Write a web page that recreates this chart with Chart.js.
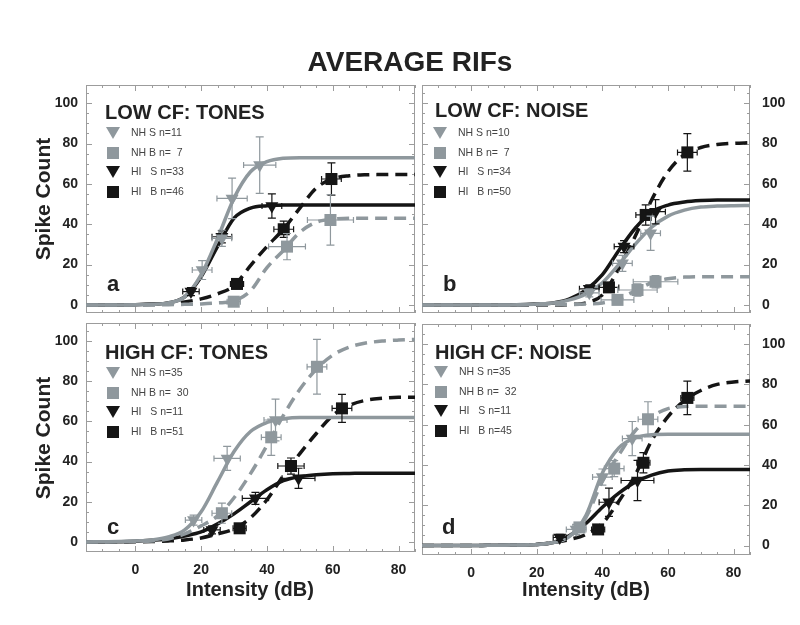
<!DOCTYPE html>
<html>

<head>
    <meta charset="UTF-8">
    <title>Average RIFs</title>
    <script src="https://cdn.jsdelivr.net/npm/chart.js@4.4.0/dist/chart.umd.min.js"></script>
    <style>
        body { margin: 0; background: #fff; }
        #page { position: relative; width: 800px; height: 625px; overflow: hidden; font-family: "Liberation Sans", Arial, sans-serif; color: #222; }
        canvas { position: absolute; left: 0; top: 0; }
        .txt { position: absolute; white-space: pre; line-height: 1; }
        .bold { font-weight: bold; }
        .tri { position: absolute; width: 0; height: 0; border-left: 7px solid transparent; border-right: 7px solid transparent; border-top: 12px solid; }
        .sq { position: absolute; width: 12px; height: 12px; }
    </style>
</head>

<body>
    <div id="page">
        <canvas id="cA" width="800" height="625"></canvas>
        <canvas id="cB" width="800" height="625"></canvas>
        <canvas id="cC" width="800" height="625"></canvas>
        <canvas id="cD" width="800" height="625"></canvas>
        <div class="txt bold" style="left:0;width:820px;text-align:center;top:48px;font-size:28px;">AVERAGE RIFs</div>
        <div class="txt bold" style="left:42px;top:199px;font-size:21px;transform:translate(-50%,-50%) rotate(-90deg);">Spike Count</div>
        <div class="txt bold" style="left:42px;top:438px;font-size:21px;transform:translate(-50%,-50%) rotate(-90deg);">Spike Count</div>
        <div class="txt bold" style="left:250px;top:589px;font-size:20px;transform:translate(-50%,-50%);">Intensity (dB)</div>
        <div class="txt bold" style="left:586px;top:589px;font-size:20px;transform:translate(-50%,-50%);">Intensity (dB)</div>
    </div>
    <script>
        const curveX = [-15, -10, -5, 0, 5, 10, 15, 20, 25, 30, 35, 40, 45, 50, 55, 60, 65, 70, 75, 80, 85];
        const xTickVals = [0, 20, 40, 60, 80];
        const yTickVals = [0, 20, 40, 60, 80, 100];

        // panel a: low CF, tones
        const aCurveNHS = [0, 0, 0, 0.1, 0.3, 1, 4, 15, 33, 53, 66, 71, 72.7, 73, 73, 73, 73, 73, 73, 73, 73];
        const aCurveNHB = [0, 0, 0, 0, 0, 0.1, 0.3, 0.5, 1, 2, 7, 18.5, 27, 36, 41, 42.5, 43, 43, 43, 43, 43];
        const aCurveHIS = [0, 0, 0, 0.1, 0.4, 1, 4, 14, 29, 43, 48, 49.2, 49.5, 49.5, 49.5, 49.5, 49.5, 49.5, 49.5, 49.5, 49.5];
        const aCurveHIB = [0, 0, 0, 0.1, 0.2, 0.5, 1.5, 3, 5.5, 9.5, 19.5, 29, 37.5, 48, 58, 62.5, 64, 64.5, 64.6, 64.7, 64.7];
        // points: [x, y, xErr, yErr]
        const aPtsNHS = [[20.3, 17.3, 3, 4.7], [26.3, 33, 3, 4], [29.4, 52.8, 4.6, 10], [37.8, 69.3, 4.9, 14]];
        const aPtsNHB = [[29.9, 1.6, 2, 1], [46.1, 28.9, 5.6, 6.5], [59.3, 42.1, 7, 12.5]];
        const aPtsHIS = [[16.9, 6.6, 2.5, 2], [26.3, 33.8, 3, 3], [41.5, 49, 3, 6]];
        const aPtsHIB = [[30.9, 10.4, 2, 2], [45.1, 37.5, 3, 4], [59.6, 62.4, 3, 8]];
        const aLegend = ['NH S n=11', 'NH B n=  7', 'HI   S n=33', 'HI   B n=46'];

        // panel b: low CF, noise
        const bCurveNHS = [0, 0, 0, 0, 0, 0, 0.2, 0.5, 1, 2.5, 5.5, 11, 20, 30, 38.5, 44, 47, 48.5, 49, 49.2, 49.3];
        const bCurveNHB = [0, 0, 0, 0, 0, 0, 0, 0.1, 0.1, 0.2, 0.5, 1, 3, 7, 11, 13, 13.8, 14, 14, 14, 14];
        const bCurveHIS = [0, 0, 0, 0, 0, 0, 0.1, 0.5, 1, 3, 7.5, 15, 27, 38, 46, 49.5, 51, 51.7, 52, 52, 52];
        const bCurveHIB = [0, 0, 0, 0, 0, 0, 0, 0, 0, 0.2, 1, 5, 18, 34, 52, 66, 74.5, 78, 79.5, 80.1, 80.4];
        const bPtsNHS = [[36, 6, 3, 2], [46.1, 20.6, 3, 4], [54.7, 35.5, 3, 8.5]];
        const bPtsNHB = [[44.6, 2.5, 5, 2], [50.7, 7.4, 6, 3], [56.2, 11.5, 6.8, 3]];
        const bPtsHIS = [[36, 8, 3, 2], [46.6, 28.9, 3, 3], [56.2, 46.2, 3, 6]];
        const bPtsHIB = [[42, 8.7, 3, 2], [53.2, 44.6, 3, 5], [65.9, 75.6, 3, 9.3]];
        const bLegend = ['NH S n=10', 'NH B n=  7', 'HI   S n=34', 'HI   B n=50'];

        // panel c: high CF, tones
        const cCurveNHS = [0, 0.1, 0.2, 0.5, 1, 2.5, 6, 15, 30, 45, 55, 59.5, 61.3, 62, 62, 62, 62, 62, 62, 62, 62];
        const cCurveNHB = [0, 0, 0.1, 0.3, 0.5, 1.5, 4, 8, 13, 22, 34, 48, 63, 76, 86, 93, 97, 99, 100, 100.5, 100.8];
        const cCurveHIS = [0, 0, 0.1, 0.3, 0.8, 1.5, 3, 5, 9, 14, 20, 26, 30.5, 32.5, 33.5, 34, 34.1, 34.2, 34.2, 34.2, 34.2];
        const cCurveHIB = [0, 0, 0, 0.1, 0.2, 0.5, 1, 2, 4, 6.5, 12, 21, 33, 44, 54, 63, 68, 70.5, 71.5, 72, 72];
        const cPtsNHS = [[17.7, 10.9, 2.5, 2.5], [27.9, 41.6, 4, 6], [42.6, 60.7, 3.5, 10.4]];
        const cPtsNHB = [[26.3, 14.3, 3, 5], [41.3, 52.1, 3, 9], [55.2, 87.2, 3, 13.6]];
        const cPtsHIS = [[23.3, 6, 2.5, 2], [36.5, 21.7, 4, 3], [49.6, 31.7, 5, 5]];
        const cPtsHIB = [[31.7, 6.8, 2, 1.5], [47.3, 37.8, 4, 4], [62.8, 66.5, 3, 7]];
        const cLegend = ['NH S n=35', 'NH B n=  30', 'HI   S n=11', 'HI   B n=51'];

        // panel d: high CF, noise
        const dCurveNHS = [0, 0, 0, 0, 0.1, 0.2, 0.3, 0.5, 1.5, 4.5, 15, 36, 48.5, 53.5, 55, 55.2, 55.2, 55.2, 55.2, 55.2, 55.2];
        const dCurveNHB = [0, 0, 0, 0, 0.1, 0.2, 0.3, 0.5, 1.5, 4.5, 14, 32, 45, 57, 64, 68, 69, 69.2, 69.2, 69.2, 69.2];
        const dCurveHIS = [0, 0, 0, 0, 0.1, 0.2, 0.3, 0.5, 1.5, 5, 11, 19, 26, 31.5, 35, 37, 37.6, 37.8, 37.8, 37.8, 37.8];
        const dCurveHIB = [0, 0, 0, 0, 0.1, 0.2, 0.3, 0.5, 1.5, 3, 5.5, 11, 22, 35, 52, 64, 72, 77, 80, 81.2, 81.7];
        const dPtsNHS = [[32, 8, 3, 2.5], [40, 34, 3, 4], [49.1, 53.1, 3, 8.5]];
        const dPtsNHB = [[33, 9, 2, 2], [43.6, 38.2, 3, 4], [53.9, 62.7, 3, 8.7]];
        const dPtsHIS = [[27, 4, 2, 1.5], [42, 21.5, 3, 7], [50.7, 32.3, 5, 10]];
        const dPtsHIB = [[38.7, 8, 2, 1.5], [52.5, 41.1, 2, 5], [65.9, 73.3, 2, 8.3]];
        const dLegend = ['NH S n=35', 'NH B n=  32', 'HI   S n=11', 'HI   B n=45'];

        const GRAY = '#8f989d';
        const BLACK = '#151515';
        // NH S, NH B, HI S, HI B
        const styles = [
            { color: GRAY, shape: 'tri', dash: false },
            { color: GRAY, shape: 'sq', dash: true },
            { color: BLACK, shape: 'tri', dash: false },
            { color: BLACK, shape: 'sq', dash: true }
        ];

        const panels = [
            { id: 'cA', title: 'LOW CF: TONES', letter: 'a', legend: aLegend, curves: [aCurveNHS, aCurveNHB, aCurveHIS, aCurveHIB], pts: [aPtsNHS, aPtsNHB, aPtsHIS, aPtsHIB],
              side: 'left', showX: false, area: { l: 86, r: 415, t: 85, b: 313 }, yMin: -4, yMax: 109, head: [105, 102], leg: [113, 133], let: [107, 273] },
            { id: 'cB', title: 'LOW CF: NOISE', letter: 'b', legend: bLegend, curves: [bCurveNHS, bCurveNHB, bCurveHIS, bCurveHIB], pts: [bPtsNHS, bPtsNHB, bPtsHIS, bPtsHIB],
              side: 'right', showX: false, area: { l: 422, r: 750, t: 85, b: 313 }, yMin: -4, yMax: 109, head: [435, 100], leg: [440, 133], let: [443, 273] },
            { id: 'cC', title: 'HIGH CF: TONES', letter: 'c', legend: cLegend, curves: [cCurveNHS, cCurveNHB, cCurveHIS, cCurveHIB], pts: [cPtsNHS, cPtsNHB, cPtsHIS, cPtsHIB],
              side: 'left', showX: true, area: { l: 86, r: 415, t: 323, b: 552 }, yMin: -5, yMax: 109, head: [105, 342], leg: [113, 373], let: [107, 516] },
            { id: 'cD', title: 'HIGH CF: NOISE', letter: 'd', legend: dLegend, curves: [dCurveNHS, dCurveNHB, dCurveHIS, dCurveHIB], pts: [dPtsNHS, dPtsNHB, dPtsHIS, dPtsHIB],
              side: 'right', showX: true, area: { l: 422, r: 750, t: 324, b: 555 }, yMin: -4.7, yMax: 110, head: [435, 342], leg: [441, 372], let: [442, 516] }
        ];

        Chart.defaults.font.family = '"Liberation Sans", Arial, sans-serif';
        Chart.defaults.color = '#222';

        // frame with inward ticks on all four sides
        const framePlugin = {
            id: 'frame',
            beforeDatasetsDraw(chart) {
                const { ctx, chartArea: a, scales } = chart;
                ctx.save();
                ctx.strokeStyle = '#9c9c9c';
                ctx.lineWidth = 1;
                ctx.strokeRect(a.left + 0.5, a.top + 0.5, a.width - 1, a.height - 1);
                ctx.beginPath();
                for (let v = -15; v <= 85; v += 5) {
                    const px = Math.round(scales.x.getPixelForValue(v)) + 0.5;
                    const len = v % 20 === 0 ? 6 : 3;
                    ctx.moveTo(px, a.bottom); ctx.lineTo(px, a.bottom - len);
                    ctx.moveTo(px, a.top); ctx.lineTo(px, a.top + len);
                }
                for (let v = 0; v <= 105; v += 5) {
                    const py = Math.round(scales.y.getPixelForValue(v)) + 0.5;
                    const len = v % 20 === 0 ? 6 : 3;
                    ctx.moveTo(a.left, py); ctx.lineTo(a.left + len, py);
                    ctx.moveTo(a.right, py); ctx.lineTo(a.right - len, py);
                }
                ctx.stroke();
                ctx.restore();
            }
        };

        // error bars drawn just before each marker dataset
        const errorBarPlugin = {
            id: 'errorBars',
            beforeDatasetDraw(chart, args) {
                const ds = chart.data.datasets[args.index];
                if (!ds.errs) return;
                const xs = chart.scales.x, ys = chart.scales.y, ctx = chart.ctx;
                ctx.save();
                ctx.strokeStyle = ds.borderColor;
                ctx.lineWidth = 1.2;
                ctx.beginPath();
                ds.data.forEach((pt, i) => {
                    const [xe, ye] = ds.errs[i];
                    const px = xs.getPixelForValue(pt.x), py = ys.getPixelForValue(pt.y);
                    const x0 = xs.getPixelForValue(pt.x - xe), x1 = xs.getPixelForValue(pt.x + xe);
                    const y0 = ys.getPixelForValue(pt.y - ye), y1 = ys.getPixelForValue(pt.y + ye);
                    ctx.moveTo(x0, py); ctx.lineTo(x1, py);
                    ctx.moveTo(x0, py - 3); ctx.lineTo(x0, py + 3);
                    ctx.moveTo(x1, py - 3); ctx.lineTo(x1, py + 3);
                    ctx.moveTo(px, y0); ctx.lineTo(px, y1);
                    ctx.moveTo(px - 4, y0); ctx.lineTo(px + 4, y0);
                    ctx.moveTo(px - 4, y1); ctx.lineTo(px + 4, y1);
                });
                ctx.stroke();
                ctx.restore();
            }
        };

        const page = document.getElementById('page');

        function addText(txt, x, y, size, bold, color) {
            const d = document.createElement('div');
            d.className = 'txt' + (bold ? ' bold' : '');
            d.textContent = txt;
            d.style.left = x + 'px';
            d.style.top = y + 'px';
            d.style.fontSize = size + 'px';
            if (color) d.style.color = color;
            page.appendChild(d);
        }

        function drawPanel(p) {
            const datasets = [];
            styles.forEach((s, k) => {
                datasets.push({
                    type: 'scatter',
                    data: p.pts[k].map(r => ({ x: r[0], y: r[1] })),
                    errs: p.pts[k].map(r => [r[2], r[3]]),
                    pointStyle: s.shape === 'tri' ? 'triangle' : 'rect',
                    rotation: s.shape === 'tri' ? 180 : 0,
                    pointRadius: s.shape === 'tri' ? 7.5 : 8.5,
                    backgroundColor: s.color,
                    borderColor: s.color,
                    borderWidth: 0,
                    order: 0
                });
            });
            styles.forEach((s, k) => {
                datasets.push({
                    type: 'line',
                    data: curveX.map((x, i) => ({ x: x, y: p.curves[k][i] })),
                    borderColor: s.color,
                    borderWidth: 3.5,
                    borderDash: s.dash ? [12, 7] : [],
                    pointRadius: 0,
                    fill: false,
                    cubicInterpolationMode: 'monotone',
                    order: 1
                });
            });

            const axisW = 45, axisH = p.showX ? 30 : 0;
            const pad = {
                left: p.area.l - (p.side === 'left' ? axisW : 0),
                right: 800 - p.area.r - (p.side === 'right' ? axisW : 0),
                top: p.area.t,
                bottom: 625 - p.area.b - axisH
            };

            new Chart(document.getElementById(p.id).getContext('2d'), {
                type: 'scatter',
                data: { datasets: datasets },
                options: {
                    responsive: false,
                    animation: false,
                    events: [],
                    layout: { padding: pad },
                    plugins: { legend: { display: false }, tooltip: { enabled: false } },
                    scales: {
                        x: {
                            type: 'linear', min: -15, max: 85, display: p.showX, position: 'bottom',
                            grid: { display: false, drawTicks: false }, border: { display: false },
                            ticks: { padding: 10, color: '#222', font: { size: 14, weight: 'bold' } },
                            afterBuildTicks: s => { s.ticks = xTickVals.map(v => ({ value: v })); },
                            afterFit: s => { s.height = axisH; }
                        },
                        y: {
                            type: 'linear', min: p.yMin, max: p.yMax, position: p.side,
                            grid: { display: false, drawTicks: false }, border: { display: false },
                            ticks: { padding: p.side === 'left' ? 8 : 12, color: '#222', font: { size: 14, weight: 'bold' } },
                            afterBuildTicks: s => { s.ticks = yTickVals.map(v => ({ value: v })); },
                            afterFit: s => { s.width = axisW; }
                        }
                    }
                },
                plugins: [framePlugin, errorBarPlugin]
            });

            // header, panel letter and legend
            addText(p.title, p.head[0], p.head[1], 20, true);
            addText(p.letter, p.let[0], p.let[1], 22, true);
            p.legend.forEach((label, k) => {
                const cy = p.leg[1] + k * 19.5;
                const m = document.createElement('div');
                m.className = styles[k].shape;
                if (styles[k].shape === 'tri') {
                    m.style.borderTopColor = styles[k].color;
                    m.style.left = (p.leg[0] - 7) + 'px';
                    m.style.top = (cy - 6) + 'px';
                } else {
                    m.style.background = styles[k].color;
                    m.style.left = (p.leg[0] - 6) + 'px';
                    m.style.top = (cy - 6) + 'px';
                }
                page.appendChild(m);
                addText(label, p.leg[0] + 18, cy - 6, 10.5, false, '#444');
            });
        }

        panels.forEach(drawPanel);
    </script>
</body>

</html>
